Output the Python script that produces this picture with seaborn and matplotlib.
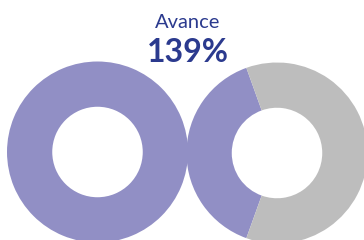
import matplotlib
matplotlib.use("Agg")
import matplotlib.pyplot as plt
import seaborn as sns

sns.set_theme(style="white")
plt.rcParams['font.family'] = ['Lato', 'DejaVu Sans']

title_label = "Avance"
total_pct = 139
donut_labels = ["Meta", "Excedente"]
donut_done = [100, 39]
purple = "#918fc5"
gray = "#bdbdbd"
navy = "#2b3a8e"

W, H = 364, 240
fig = plt.figure(figsize=(W / 100, H / 100), dpi=100)
ax = fig.add_axes([0, 0, 1, 1])
ax.set_xlim(0, W)
ax.set_ylim(0, H)
ax.set_aspect("equal")
ax.axis("off")

centers = [(97.5, 88), (277, 87)]
R = 90.5
for (cx, cy), done in zip(centers, donut_done):
    vals = [done, 100 - done]
    start = 180 - done * 3.6 / 2
    ax.pie(vals, colors=[purple, gray], startangle=start, counterclock=True,
           center=(cx, cy), radius=R, frame=True,
           wedgeprops=dict(width=R * 0.5, linewidth=0))
ax.set_xlim(0, W)
ax.set_ylim(0, H)
ax.axis("off")

fig.text(188 / W, 1 - 22 / H, title_label, ha="center", va="center",
         color=navy, fontsize=14.5)
fig.text(188 / W, 1 - 52 / H, f"{total_pct}%", ha="center", va="center",
         color=navy, fontsize=23, fontweight="bold")

fig.savefig("out.png", dpi=100)
